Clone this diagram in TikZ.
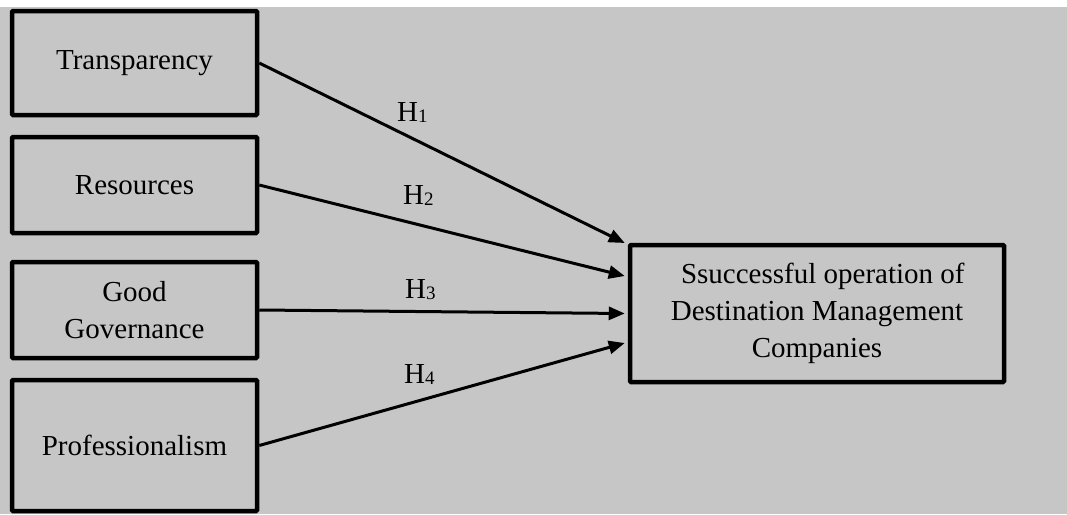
\documentclass[tikz,border=0pt]{standalone}
\usepackage{fontspec}
\setmainfont{Liberation Serif}
\usetikzlibrary{arrows.meta,calc}
\definecolor{bggray}{RGB}{198,198,198}
\begin{document}
\begin{tikzpicture}[x=1pt,y=-1pt,
  box/.style={draw=black, line width=4.5pt, rounded corners=1pt, inner sep=0pt, align=center,
    font=\fontsize{29}{37}\selectfont},
  link/.style={line width=3pt, -{Triangle[length=16pt,width=13pt]}},
  hlab/.style={font=\fontsize{29}{34}\selectfont, inner sep=0pt, anchor=base west}]
\useasboundingbox (0,0) rectangle (1067,514);
\fill[bggray] (0,7) rectangle (1067,514);
\node[box, minimum width=245pt, minimum height=104pt] (t) at (134.5,63) {\raisebox{-3pt}{Transparency}};
\node[box, minimum width=245pt, minimum height=96pt] (r) at (134.5,185) {Resources};
\node[box, minimum width=245pt, minimum height=96pt] (g) at (134.5,310) {Good\\Governance};
\node[box, minimum width=245pt, minimum height=131pt] (p) at (134.5,445.5) {Professionalism};
\node[box, minimum width=374pt, minimum height=137pt] (d) at (817,313.5)
  {\hspace*{0.4em}Ssuccessful operation of\\Destination Management\\Companies};
\draw[link] (t.east) -- ($(d.west)+(-3,-70.5)$);
\draw[link] (r.east) -- ($(d.west)+(-3,-37.5)$);
\draw[link] (g.east) -- ($(d.west)+(-3,0)$);
\draw[link] (p.east) -- ($(d.west)+(-3,29.5)$);
\newcommand{\hsub}[1]{H{\fontsize{19}{19}\selectfont\raisebox{-1.5pt}{#1}}}
\node[hlab] (h1) at (397,121) {\hsub{1}};
\node[hlab] (h2) at (403,204) {\hsub{2}};
\node[hlab] (h3) at (405,298) {\hsub{3}};
\node[hlab] (h4) at (404,383) {\hsub{4}};
\end{tikzpicture}
\end{document}
